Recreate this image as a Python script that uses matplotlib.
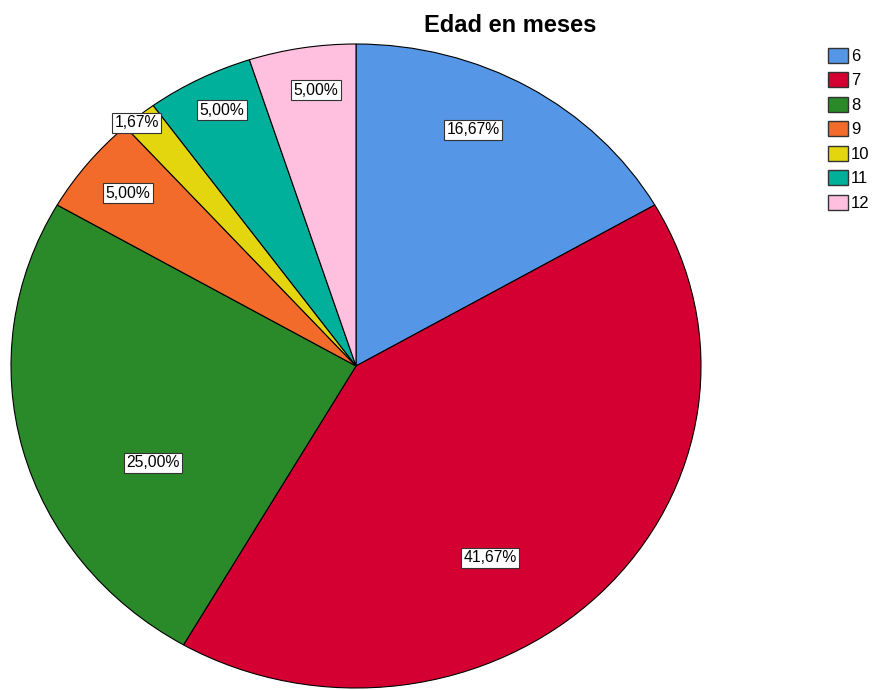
import matplotlib.pyplot as plt
from matplotlib.patches import Patch

plt.rcParams['font.family'] = ['Liberation Sans', 'DejaVu Sans']

categories = ['6', '7', '8', '9', '10', '11', '12']
counts = [10, 25, 15, 3, 1, 3, 3]
colors = ['#5596e6', '#d50032', '#2a8a2a', '#f26b2a', '#e3d60e', '#00b09b', '#ffc0e0']

# label anchor points (pie units), as placed in the original output
label_pos = [(0.339, 0.733), (0.388, -0.596), (-0.588, -0.301), (-0.661, 0.537),
             (-0.635, 0.755), (-0.388, 0.795), (-0.116, 0.857)]

fig = plt.figure(figsize=(8.75, 6.9), dpi=100)
W, H = 875, 690
ax = fig.add_axes([11 / W, (H - 688) / H, 690 / W, 644 / H])

wedges, _ = ax.pie(counts, colors=colors, startangle=90, counterclock=False,
                   wedgeprops=dict(edgecolor='black', linewidth=0.8))
ax.set_aspect('auto')
ax.set_xlim(-1, 1)
ax.set_ylim(-1, 1)

total = sum(counts)
for c, (x, y) in zip(counts, label_pos):
    txt = f"{100 * c / total:.2f}%".replace('.', ',')
    ax.text(x, y, txt, ha='center', va='center', fontsize=11.3,
            bbox=dict(boxstyle='square,pad=0.15', facecolor='white',
                      edgecolor='#333333', linewidth=0.8))

fig.text(510 / W, 1 - 25 / H, 'Edad en meses', ha='center', va='center',
         fontsize=17, fontweight='bold')

handles = [Patch(facecolor=col, edgecolor='#333333', linewidth=1.0) for col in colors]
fig.legend(handles, categories, loc='upper left', bbox_to_anchor=(826 / W, 1 - 46 / H),
           frameon=False, fontsize=12, handlelength=1.2, handleheight=1.0,
           handletextpad=0.2, labelspacing=0.5, borderaxespad=0, borderpad=0.1)

fig.savefig('out.png', dpi=100)
